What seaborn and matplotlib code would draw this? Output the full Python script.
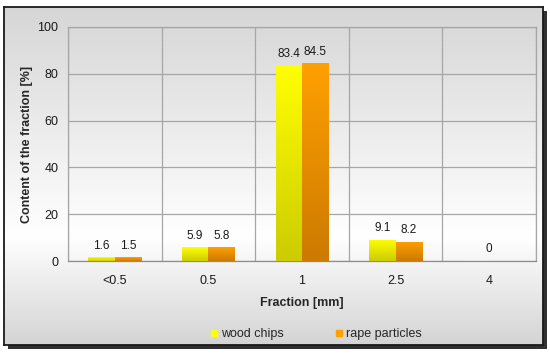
import numpy as np
import pandas as pd
import matplotlib
matplotlib.use("Agg")
import matplotlib.pyplot as plt
import seaborn as sns
from matplotlib.colors import LinearSegmentedColormap
from matplotlib.lines import Line2D

fractions = ["<0.5", "0.5", "1", "2.5", "4"]
wood_chips = [1.6, 5.9, 83.4, 9.1, 0.0]
rape_particles = [1.5, 5.8, 84.5, 8.2, np.nan]
series_names = ["wood chips", "rape particles"]
series_top = ["#ffff00", "#ffa000"]
series_bottom = ["#cccc00", "#cc7a00"]

df = pd.DataFrame({
    "fraction": fractions * 2,
    "content": wood_chips + rape_particles,
    "series": [series_names[0]] * 5 + [series_names[1]] * 5,
})

sns.set_style("white")
plt.rcParams["font.family"] = ["Liberation Sans", "DejaVu Sans"]

fig = plt.figure(figsize=(5.5, 3.56), dpi=100)
fig.patch.set_facecolor("white")

# framed background with shadow
W, H = 550, 356
bx0, by0, bx1, by1 = 4, 7, 543, 345
shadow = fig.add_axes([(bx0 + 4) / W, 1 - (by1 + 4) / H, (bx1 - bx0) / W, (by1 - by0) / H], zorder=-2)
shadow.set_facecolor("#303030")
shadow.set_xticks([])
shadow.set_yticks([])
for s in shadow.spines.values():
    s.set_visible(False)

bg = fig.add_axes([bx0 / W, 1 - by1 / H, (bx1 - bx0) / W, (by1 - by0) / H], zorder=-1)
grad_cmap = LinearSegmentedColormap.from_list(
    "bg", [(0.0, "#d6d6d6"), (0.68, "#ffffff"), (1.0, "#d4d4d4")])
bg.imshow(np.linspace(0, 1, 256)[:, None], aspect="auto", cmap=grad_cmap, extent=[0, 1, 0, 1])
bg.set_xticks([])
bg.set_yticks([])
for s in bg.spines.values():
    s.set_color("#1a1a1a")
    s.set_linewidth(1.3)

ax = fig.add_axes([68 / W, 1 - 261 / H, (536 - 68) / W, (261 - 27) / H], zorder=1)
ax.patch.set_alpha(0)

sns.barplot(data=df, x="fraction", y="content", hue="series", order=fractions,
            hue_order=series_names, palette=series_top, width=0.566, gap=0,
            saturation=1, legend=False, ax=ax, zorder=3)

# gradient fill for bars
for cont, top, bot in zip(ax.containers, series_top, series_bottom):
    cmap = LinearSegmentedColormap.from_list("b", [bot, top])
    for p in cont.patches:
        h = p.get_height()
        if not np.isfinite(h) or h <= 0:
            continue
        x0 = p.get_x()
        im = ax.imshow(np.linspace(0, 1, 64)[::-1, None], aspect="auto", cmap=cmap,
                       extent=[x0, x0 + p.get_width(), 0, h], zorder=3)
        im.set_clip_path(p)
        p.set_facecolor("none")
        p.set_edgecolor("none")
ax.set_ylim(0, 100)
ax.set_xlim(-0.5, len(fractions) - 0.5)

# value labels
bw = 0.283
for i, (w, r) in enumerate(zip(wood_chips, rape_particles)):
    if np.isnan(r):
        ax.annotate(f"{w:g}", (i, w), xytext=(0, 4), textcoords="offset points",
                    ha="center", va="bottom", fontsize=8.5, color="#1a1a1a")
        continue
    for v, off in ((w, -bw / 2), (r, bw / 2)):
        ax.annotate(f"{v:g}", (i + off, v), xytext=(0, 4), textcoords="offset points",
                    ha="center", va="bottom", fontsize=8.5, color="#1a1a1a")

ax.set_yticks(range(0, 101, 20))
ax.set_xticks(np.arange(-0.5, len(fractions), 1.0), minor=True)
ax.grid(axis="y", which="major", color="#a6a6a6", linewidth=0.9, zorder=1)
ax.grid(axis="x", which="minor", color="#a6a6a6", linewidth=0.9, zorder=1)
ax.set_axisbelow(True)
ax.tick_params(axis="x", which="major", length=0, labelsize=9, pad=10, colors="#1a1a1a")
ax.tick_params(axis="x", which="minor", length=4, color="#8c8c8c", direction="out")
ax.tick_params(axis="y", length=4, color="#8c8c8c", labelsize=9, labelcolor="#1a1a1a", pad=3)
for s in ax.spines.values():
    s.set_color("#a6a6a6")
    s.set_linewidth(0.9)
ax.spines["bottom"].set_color("#8c8c8c")

ax.set_xlabel("Fraction [mm]", fontsize=9, fontweight="bold", labelpad=7)
ax.set_ylabel("Content of the fraction [%]", fontsize=9, fontweight="bold", labelpad=3)

handles = [Line2D([], [], marker="s", linestyle="none", markersize=5,
                  markerfacecolor=c, markeredgecolor=c) for c in series_top]
fig.legend(handles, series_names, loc="center", bbox_to_anchor=(316 / W, 1 - 334 / H),
           ncol=2, frameon=False, fontsize=9, handlelength=0.6, handletextpad=0.3,
           columnspacing=4.1)

fig.savefig("out.png", dpi=100)
